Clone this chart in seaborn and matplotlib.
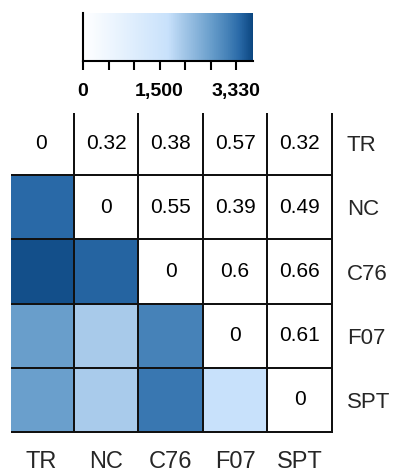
import numpy as np
import pandas as pd
import matplotlib
matplotlib.use('Agg')
import matplotlib.pyplot as plt
import seaborn as sns
from matplotlib.colors import LinearSegmentedColormap, ListedColormap

sns.set_style('white')
plt.rcParams['font.family'] = ['Liberation Sans', 'DejaVu Sans']

# populations
pops = ['TR', 'NC', 'C76', 'F07', 'SPT']

# upper triangle: Fst values (row = first pop, col = second pop)
fst_rows = [
    [0, 0.32, 0.38, 0.57, 0.32],
    [None, 0, 0.55, 0.39, 0.49],
    [None, None, 0, 0.6, 0.66],
    [None, None, None, 0, 0.61],
    [None, None, None, None, 0],
]

# lower triangle: distances (colour scale 0 - 3,330)
dist_rows = [
    [None, None, None, None, None],
    [3060, None, None, None, None],
    [3260, 3100, None, None, None],
    [2500, 1930, 2830, None, None],
    [2490, 1920, 2930, 1660, None],
]

cbar_max = 3330
cbar_ticks = [0, 500, 1000, 1500, 2000, 2500, 3000]
cbar_labels = ['0', '', '', '1,500', '', '', '3,330']

fst = pd.DataFrame(fst_rows, index=pops, columns=pops, dtype=float)
dist = pd.DataFrame(dist_rows, index=pops, columns=pops, dtype=float)

cmap = LinearSegmentedColormap.from_list('dist', [
    (0.0, '#ffffff'), (0.5, '#c8e1fb'), (0.58, '#a8caea'), (0.75, '#6a9fcc'),
    (0.85, '#4682b8'), (0.92, '#2a6aa8'), (1.0, '#0b4680')])

fig = plt.figure(figsize=(3.93, 4.73), dpi=100)
ax = fig.add_axes([11 / 393, 1 - 433 / 473, 322 / 393, 320 / 473])
cax = fig.add_axes([83 / 393, 1 - 61 / 473, 170 / 393, 48 / 473])

sns.heatmap(dist, mask=dist.isna(), cmap=cmap, vmin=0, vmax=cbar_max,
            linewidths=1.1, linecolor='#111111', ax=ax, cbar_ax=cax,
            cbar_kws={'orientation': 'horizontal', 'ticks': cbar_ticks})
sns.heatmap(fst, mask=fst.isna(), cmap=ListedColormap(['white']), cbar=False,
            annot=True, fmt='g', annot_kws={'fontsize': 15, 'color': 'black'},
            linewidths=1.1, linecolor='#111111', ax=ax)

# hide the outer top/left edges like the reference
ax.set_xlim(0.03, len(pops) + 0.015)
ax.set_ylim(len(pops) + 0.015, 0.03)

ax.yaxis.tick_right()
ax.set_yticks(np.arange(len(pops)) + 0.5)
ax.set_yticklabels(pops, rotation=0, fontsize=16)
ax.set_xticks(np.arange(len(pops)) + 0.5)
ax.set_xticklabels(pops, rotation=0, fontsize=17)
ax.tick_params(axis='y', length=0, pad=10)
ax.tick_params(axis='x', length=0, pad=13)
ax.set_xlabel('')
ax.set_ylabel('')
for s in ax.spines.values():
    s.set_visible(False)

# colorbar styling
cbar = ax.collections[0].colorbar
cbar.outline.set_visible(False)
for side in ['left', 'bottom']:
    cax.spines[side].set_visible(True)
    cax.spines[side].set_linewidth(1.5)
    cax.spines[side].set_color('black')
cax.set_xticks(cbar_ticks)
cax.set_xticklabels(cbar_labels, fontsize=14, fontweight='bold')
cax.tick_params(axis='x', direction='out', length=6.5, width=1.5, pad=9, colors='black')

fig.savefig('out.png', dpi=100)
